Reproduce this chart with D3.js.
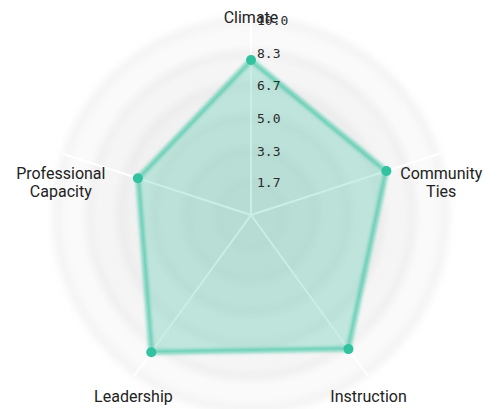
<!DOCTYPE html>
<html>
<head>
<meta charset="utf-8">
<script src="https://cdn.jsdelivr.net/npm/d3@7"></script>
<style>
  body { margin: 0; background: #fff; }
  svg { display: block; }
</style>
</head>
<body>
<script>
var axesNames = ['Climate', 'Community Ties', 'Instruction', 'Leadership', 'Professional Capacity'];
var scores = [7.95, 7.3, 8.5, 8.7, 6.1];
var tickValues = [1.7, 3.3, 5.0, 6.7, 8.3, 10.0];
var maxValue = 10;

var w = 498;
var h = 409;
var cx = 251;
var cy = 215;
var radius = 195;
var color = '#33c29f';

var svg = d3.select('body').append('svg')
            .attr('width', w)
            .attr('height', h);

var defs = svg.append('defs');
var blur = defs.append('filter').attr('id', 'blur')
               .attr('x', '-50%').attr('y', '-50%')
               .attr('width', '200%').attr('height', '200%');
blur.append('feGaussianBlur').attr('stdDeviation', 1.6);

var softGlow = defs.append('filter').attr('id', 'softglow')
                   .attr('x', '-50%').attr('y', '-50%')
                   .attr('width', '200%').attr('height', '200%');
softGlow.append('feGaussianBlur').attr('stdDeviation', 4);

var g = svg.append('g').attr('transform', 'translate(' + cx + ',' + cy + ')');

var rScale = d3.scaleLinear().domain([0, maxValue]).range([0, radius]);
var angle = d3.scaleLinear().domain([0, axesNames.length]).range([0, 2 * Math.PI]);

// grid circles
g.selectAll('.grid')
 .data(tickValues.slice().reverse())
 .enter()
 .append('circle')
 .attr('class', 'grid')
 .attr('r', function(d){ return rScale(d); })
 .style('fill', '#cdcdcd')
 .style('fill-opacity', 0.1)
 .style('stroke', '#cdcdcd')
 .style('stroke-width', 3)
 .style('stroke-opacity', 0.5)
 .style('filter', 'url(#softglow)');

// axis lines
g.selectAll('.axis')
 .data(axesNames)
 .enter()
 .append('line')
 .attr('class', 'axis')
 .attr('x1', 0)
 .attr('y1', 0)
 .attr('x2', function(d, i){ return rScale(maxValue * 1.02) * Math.sin(angle(i)); })
 .attr('y2', function(d, i){ return -rScale(maxValue * 1.02) * Math.cos(angle(i)); })
 .style('stroke', '#fff')
 .style('stroke-width', 2);

// area
var line = d3.lineRadial()
             .radius(function(d){ return rScale(d); })
             .angle(function(d, i){ return angle(i); })
             .curve(d3.curveLinearClosed);

g.append('path')
 .datum(scores)
 .attr('d', line)
 .style('fill', color)
 .style('fill-opacity', 0.27)
 .style('stroke', 'none');

g.append('path')
 .datum(scores)
 .attr('d', line)
 .style('fill', 'none')
 .style('stroke', color)
 .style('stroke-width', 5)
 .style('stroke-opacity', 0.6)
 .style('filter', 'url(#blur)');

g.selectAll('.dot')
 .data(scores)
 .enter()
 .append('circle')
 .attr('class', 'dot')
 .attr('r', 5)
 .attr('cx', function(d, i){ return rScale(d) * Math.sin(angle(i)); })
 .attr('cy', function(d, i){ return -rScale(d) * Math.cos(angle(i)); })
 .style('fill', color);

// tick labels
g.selectAll('.tick')
 .data(tickValues)
 .enter()
 .append('text')
 .attr('class', 'tick')
 .attr('x', 6)
 .attr('y', function(d){ return -rScale(d); })
 .attr('dy', '0.4em')
 .text(function(d){ return d.toFixed(1); })
 .style('font-family', 'DejaVu Sans Mono, monospace')
 .style('font-size', '13px')
 .style('fill', '#2a2a2a');

// axis labels
var labelR = 200;
var labels = g.selectAll('.label')
 .data(axesNames)
 .enter()
 .append('text')
 .attr('class', 'label')
 .attr('text-anchor', 'middle')
 .style('font-family', 'Roboto, sans-serif')
 .style('font-size', '16px')
 .style('fill', '#222')
 .attr('transform', function(d, i){
   var x = labelR * Math.sin(angle(i));
   var y = -labelR * Math.cos(angle(i)) + (i === 0 ? 2 : 20);
   return 'translate(' + x + ',' + y + ')';
 });

labels.each(function(d){
  var words = d.split(' ');
  var t = d3.select(this);
  words.forEach(function(word, k){
    t.append('tspan')
     .attr('x', 0)
     .attr('dy', k === 0 ? '0.35em' : '1.15em')
     .text(word);
  });
});
</script>
</body>
</html>
